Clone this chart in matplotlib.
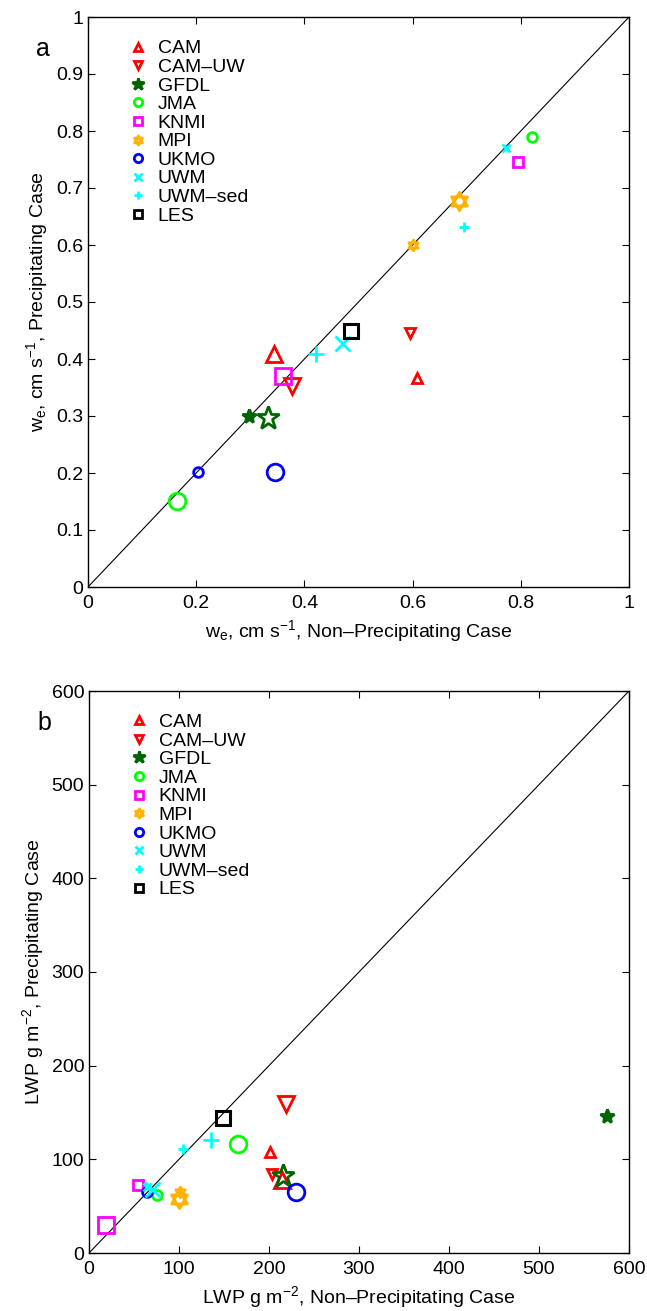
import matplotlib
matplotlib.use("Agg")
import numpy as np
import matplotlib.pyplot as plt
from matplotlib.lines import Line2D
from matplotlib.path import Path

plt.rcParams['font.family'] = ['Liberation Sans', 'DejaVu Sans']
plt.rcParams['mathtext.fontset'] = 'custom'
plt.rcParams['mathtext.rm'] = 'Liberation Sans'
plt.rcParams['mathtext.it'] = 'Liberation Sans'

# hexagram (Star of David) marker: two overlapping triangles
_up = [(np.cos(np.radians(a)), np.sin(np.radians(a))) for a in (90, 210, 330)]
_dn = [(np.cos(np.radians(a)), np.sin(np.radians(a))) for a in (270, 30, 150)]
hexagram = Path(_up + [_up[0]] + _dn + [_dn[0]],
                [Path.MOVETO, Path.LINETO, Path.LINETO, Path.CLOSEPOLY,
                 Path.MOVETO, Path.LINETO, Path.LINETO, Path.CLOSEPOLY])

models = ['CAM', 'CAM\u2013UW', 'GFDL', 'JMA', 'KNMI', 'MPI', 'UKMO', 'UWM', 'UWM\u2013sed', 'LES']
colors = ['#ff0000', '#ff0000', '#006400', '#00ff00', '#ff00ff', '#ffb300', '#0000ff', '#00ffff', '#00ffff', '#000000']
markers = ['^', 'v', '*', 'o', 's', hexagram, 'o', 'x', '+', 's']
size_scale = [1.0, 1.0, 1.45, 1.0, 0.95, 1.1, 1.0, 0.9, 1.0, 1.0]
small_filled = [False, False, True, False, False, False, False, False, False, False]

# panel a: entrainment rate (small markers, large markers)
we_np_small = [0.609, 0.595, 0.298, 0.820, 0.795, 0.600, 0.203, 0.772, 0.695]
we_p_small = [0.367, 0.446, 0.300, 0.790, 0.746, 0.600, 0.202, 0.771, 0.632]
we_np_large = [0.344, 0.378, 0.333, 0.165, 0.361, 0.685, 0.346, 0.469, 0.421]
we_p_large = [0.408, 0.353, 0.296, 0.151, 0.371, 0.677, 0.202, 0.428, 0.408]
we_np_les = 0.487
we_p_les = 0.449

# panel b: LWP
lwp_np_small = [201.5, 203, 576, 75, 54, 101, 64, 64, 104]
lwp_p_small = [108, 84, 146, 62, 73, 65, 65, 70, 111]
lwp_np_large = [214, 219, 215, 166, 19, 100, 230, 70, 136]
lwp_p_large = [78, 159, 82, 116, 30, 58, 65, 68, 121]
lwp_np_les = 149
lwp_p_les = 144

fig = plt.figure(figsize=(6.47, 13.11), dpi=100)
W, H = 647, 1311
axa = fig.add_axes([88 / W, 1 - 587 / H, (629 - 88) / W, (587 - 17) / H])
axb = fig.add_axes([89 / W, 1 - 1253 / H, (629 - 89) / W, (1253 - 691) / H])

FS = 14
SMALL = 7
LARGE = 12


def draw(ax, xs, ys, xl, yl, xles, yles, lim, xticks, xtl, yticks, ytl, xlabel, ylabel, letter):
    ax.plot([0, lim], [0, lim], color='black', lw=0.8, zorder=1)
    for i in range(9):
        m = markers[i]
        c = colors[i]
        k = size_scale[i]
        ax.plot([xs[i]], [ys[i]], linestyle='none', marker=m, ms=SMALL * k,
                mfc=c if small_filled[i] else 'none', mec=c, mew=2.0, zorder=3)
        ax.plot([xl[i]], [yl[i]], linestyle='none', marker=m, ms=LARGE * k, mfc='none',
                mec=c, mew=2.0, zorder=3)
    ax.plot([xles], [yles], linestyle='none', marker='s', ms=10, mfc='none',
            mec='black', mew=2.2, zorder=3)
    ax.set_xlim(0, lim)
    ax.set_ylim(0, lim)
    ax.set_xticks(xticks)
    ax.set_yticks(yticks)
    ax.set_xticklabels(xtl)
    ax.set_yticklabels(ytl)
    ax.tick_params(direction='in', top=True, right=True, labelsize=FS, length=5, width=0.8)
    ax.tick_params(axis='x', pad=6)
    for s in ax.spines.values():
        s.set_linewidth(1.0)
    ax.set_xlabel(xlabel, fontsize=FS, labelpad=4)
    ax.set_ylabel(ylabel, fontsize=FS, labelpad=4)
    handles = []
    for i in range(10):
        handles.append(Line2D([], [], linestyle='none', marker=markers[i],
                              ms=(SMALL - 1) * size_scale[i],
                              mfc=colors[i] if small_filled[i] else 'none',
                              mec=colors[i], mew=2.0))
    ax.legend(handles, models, loc='upper left', bbox_to_anchor=(0.075, 0.96),
              frameon=False, fontsize=FS, handlelength=1.0, handletextpad=0.5,
              labelspacing=0.05, borderpad=0, borderaxespad=0)
    ax.text(-0.083, 0.943, letter, transform=ax.transAxes, fontsize=18, ha='center', va='center')


ya = [0, 0.1, 0.2, 0.3, 0.4, 0.5, 0.6, 0.7, 0.8, 0.9, 1]
ya_lbl = ['0', '0.1', '0.2', '0.3', '0.4', '0.5', '0.6', '0.7', '0.8', '0.9', '1']
xa = [0, 0.2, 0.4, 0.6, 0.8, 1]
xa_lbl = ['0', '0.2', '0.4', '0.6', '0.8', '1']
draw(axa, we_np_small, we_p_small, we_np_large, we_p_large, we_np_les, we_p_les, 1,
     xa, xa_lbl, ya, ya_lbl,
     "w$_{\\mathregular{e}}$, cm s$^{\\mathregular{-1}}$, Non\u2013Precipitating Case",
     "w$_{\\mathregular{e}}$, cm s$^{\\mathregular{-1}}$, Precipitating Case", 'a')

tb = [0, 100, 200, 300, 400, 500, 600]
tb_lbl = [str(t) for t in tb]
draw(axb, lwp_np_small, lwp_p_small, lwp_np_large, lwp_p_large, lwp_np_les, lwp_p_les, 600,
     tb, tb_lbl, tb, tb_lbl,
     "LWP g m$^{\\mathregular{-2}}$, Non\u2013Precipitating Case",
     "LWP g m$^{\\mathregular{-2}}$, Precipitating Case", 'b')

fig.savefig('out.png', dpi=100)
